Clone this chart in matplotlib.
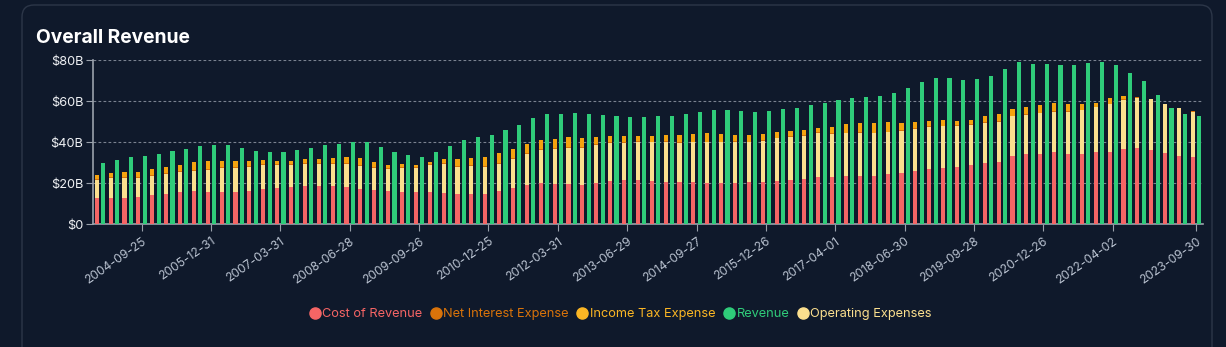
import numpy as np
import matplotlib
matplotlib.use("Agg")
import matplotlib.pyplot as plt
from matplotlib.patches import FancyBboxPatch
from matplotlib.lines import Line2D
from matplotlib.transforms import IdentityTransform

plt.rcParams['font.family'] = ['Inter', 'DejaVu Sans']

# trailing-twelve-month values in $B, one per quarter (2003-12-27 .. 2023-09-30)
cost_of_revenue = [
    12.85, 12.85, 12.85, 13.33, 14.31, 14.96, 15.77, 16.10, 15.77, 15.77, 15.77, 16.26, 17.24, 17.56, 18.21, 18.70,
    18.54, 18.54, 18.21, 17.40, 16.75, 16.26, 15.93, 15.77, 15.61, 15.28, 14.80, 14.80, 14.96, 16.26, 17.72, 19.35,
    20.16, 19.84, 19.67, 19.35, 20.16, 20.98, 21.46, 21.46, 20.98, 20.49, 20.49, 20.49, 20.16, 20.16, 20.16, 20.49,
    20.65, 21.14, 21.63, 22.11, 23.09, 23.09, 23.41, 23.58, 23.58, 24.55, 25.20, 26.02, 26.99, 27.48, 27.97, 28.94,
    29.92, 30.57, 33.33, 34.15, 34.31, 35.28, 34.47, 34.31, 35.28, 35.45, 36.75, 37.24, 36.26, 34.80, 33.33, 32.68,
]
operating_expenses = [
    8.78, 9.75, 9.75, 9.43, 9.27, 9.76, 9.92, 9.92, 10.90, 11.71, 11.71, 11.87, 11.70, 11.38, 10.73, 10.89,
    11.05, 11.05, 11.38, 11.22, 10.89, 10.73, 11.55, 11.71, 13.33, 14.31, 13.33, 13.66, 13.01, 13.33, 14.15, 14.96,
    16.10, 16.91, 17.73, 17.89, 18.54, 18.69, 18.38, 18.70, 19.02, 19.67, 19.18, 19.51, 19.84, 19.84, 20.00, 19.51,
    20.00, 20.81, 21.13, 21.14, 21.63, 21.14, 20.98, 21.14, 20.81, 20.33, 20.49, 20.65, 20.65, 20.32, 20.16, 19.68,
    19.67, 19.51, 19.35, 19.35, 19.84, 19.68, 20.49, 21.30, 21.79, 23.09, 24.06, 24.55, 24.88, 23.90, 23.25, 22.28,
]
net_interest_expense = [0.25] * 75 + [0.15] * 5
income_tax_expense = [
    2.03, 2.19, 2.68, 2.51, 3.16, 3.00, 3.00, 4.14, 3.82, 3.33, 3.33, 2.35, 2.19, 1.70, 1.70, 2.03,
    2.03, 2.51, 3.00, 3.33, 2.51, 1.54, 1.54, 1.05, 1.21, 2.03, 3.33, 3.82, 4.47, 4.79, 4.47, 4.63,
    4.79, 4.63, 4.79, 4.47, 3.82, 3.00, 2.84, 2.68, 2.84, 3.16, 3.82, 3.82, 4.14, 3.82, 3.00, 3.33,
    3.00, 2.68, 2.51, 2.35, 2.19, 3.00, 4.30, 4.47, 4.95, 4.79, 3.65, 3.16, 2.68, 2.84, 2.03, 2.19,
    2.84, 3.33, 3.33, 3.33, 3.82, 3.82, 3.33, 2.68, 1.70, 2.68, 1.38, 0.0, 0.0, 0.0, 0.0, 0.0,
]
revenue = [
    30.08, 31.38, 32.68, 33.33, 34.31, 35.61, 36.59, 38.21, 38.86, 38.54, 37.24, 35.77, 35.28, 35.28, 36.10, 37.24,
    38.54, 39.19, 40.00, 40.16, 37.56, 35.12, 33.66, 32.68, 35.12, 38.21, 40.98, 42.76, 43.58, 46.18, 48.45, 51.71,
    53.98, 53.98, 54.47, 53.66, 53.17, 53.01, 52.19, 52.19, 52.68, 53.01, 53.82, 54.96, 55.77, 55.93, 55.12, 54.96,
    55.45, 56.26, 56.75, 58.05, 59.35, 60.49, 61.79, 62.11, 62.76, 64.06, 66.34, 69.27, 71.22, 71.22, 70.57, 70.73,
    72.19, 75.93, 79.19, 78.21, 78.05, 77.72, 77.72, 78.70, 79.19, 77.89, 73.66, 69.76, 63.09, 56.58, 53.98, 52.85,
]
tick_idx = [3, 8, 13, 18, 23, 28, 33, 38, 43, 48, 53, 58, 63, 68, 73, 79]
tick_labels = ['2004-09-25', '2005-12-31', '2007-03-31', '2008-06-28', '2009-09-26', '2010-12-25',
               '2012-03-31', '2013-06-29', '2014-09-27', '2015-12-26', '2017-04-01', '2018-06-30',
               '2019-09-28', '2020-12-26', '2022-04-02', '2023-09-30']

BG = '#0f192b'
c_cost = '#f56565'
c_int = '#d9730a'
c_tax = '#f5a30f'
c_rev = '#2fcc7a'
c_opex = '#fbdf8e'

W, H = 1226, 347
fig = plt.figure(figsize=(W / 100, H / 100), dpi=100, facecolor=BG)

card = FancyBboxPatch((22, -30), 1190, 372, boxstyle='round,pad=0,rounding_size=12',
                      transform=IdentityTransform(), facecolor='none', edgecolor='#2c3648',
                      lw=1.0, zorder=-5)
fig.patches.append(card)

fig.text(36 / W, 1 - 38 / H, 'Overall Revenue', color='white', fontsize=13.8, fontweight='bold',
         ha='left', va='center')

ax = fig.add_axes([93 / W, 1 - 224.3 / H, 1110 / W, 164 / H])
ax.set_facecolor('none')
ax.set_zorder(2)

x = np.arange(len(revenue))
bw = 0.29
off = 0.23
cost = np.array(cost_of_revenue)
opex = np.array(operating_expenses)
intr = np.array(net_interest_expense)
tax = np.array(income_tax_expense)

ax.bar(x - off, cost, bw, color=c_cost, lw=0, zorder=3)
ax.bar(x - off, opex, bw, bottom=cost, color=c_opex, lw=0, zorder=3)
ax.bar(x - off, intr, bw, bottom=cost + opex, color=c_int, lw=0, zorder=3)
ax.bar(x - off, tax, bw, bottom=cost + opex + intr, color=c_tax, lw=0, zorder=3)
ax.bar(x + off, revenue, bw, color=c_rev, lw=0, zorder=3)

ax.set_xlim(-0.5, len(revenue) - 0.5)
ax.set_ylim(0, 80)
ax.set_yticks([0, 20, 40, 60, 80])
ax.set_yticklabels(['$0', '$20B', '$40B', '$60B', '$80B'])
ax.set_xticks(tick_idx)
ax.set_xticklabels(tick_labels, rotation=35, ha='right', va='top', rotation_mode='anchor')

ax.grid(axis='y', color='#7a8290', linestyle=(0, (2.5, 2)), lw=0.8, zorder=1)
for s in ['top', 'right']:
    ax.spines[s].set_visible(False)
for s in ['left', 'bottom']:
    ax.spines[s].set_color('#9aa1ab')
    ax.spines[s].set_linewidth(1.2)
ax.tick_params(axis='y', colors='#9aa1ab', labelcolor='#eef0f3', labelsize=9.2, length=5, pad=2)
ax.tick_params(axis='x', colors='#9aa1ab', labelcolor='#b9c2d0', labelsize=8.7, length=5, pad=3)

labels = ['Cost of Revenue', 'Net Interest Expense', 'Income Tax Expense', 'Revenue', 'Operating Expenses']
cols = [c_cost, c_int, '#fbb624', c_rev, c_opex]
handles = [Line2D([], [], marker='o', ls='', color=c, markersize=8) for c in cols]
leg = fig.legend(handles, labels, loc='center', bbox_to_anchor=(620 / W, 1 - 314 / H), ncol=5,
                 frameon=False, fontsize=9.2, handletextpad=0.1, columnspacing=0.55, handlelength=1.0)
for t, c in zip(leg.get_texts(), cols):
    t.set_color(c)

fig.savefig('out.png', dpi=100, facecolor=BG)
